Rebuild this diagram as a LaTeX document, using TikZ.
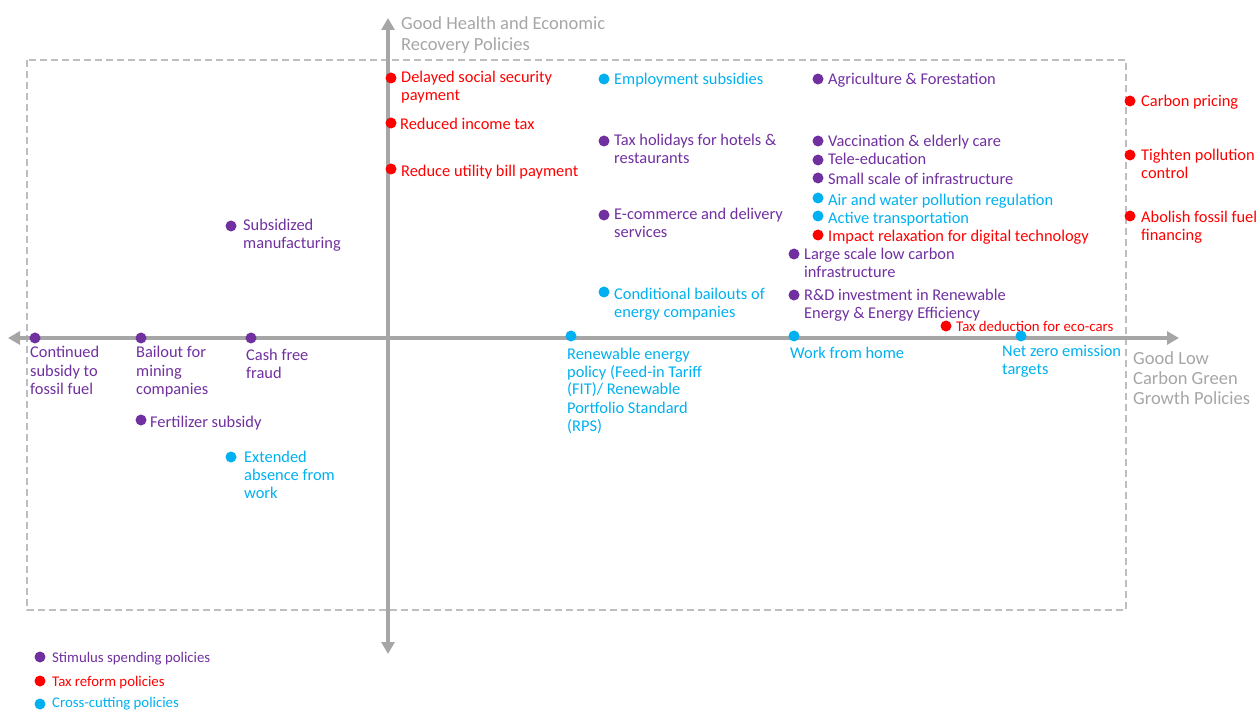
\documentclass[tikz,border=0pt]{standalone}
\usepackage{fontspec}
\setmainfont{Carlito}
\usepackage{tikz}
\usetikzlibrary{arrows.meta}
\definecolor{stimpurple}{RGB}{112,48,160}
\definecolor{taxred}{RGB}{255,0,0}
\definecolor{crosscyan}{RGB}{0,176,240}
\definecolor{axisgray}{RGB}{166,166,166}
\definecolor{boxgray}{RGB}{190,190,190}
\def\txtsize{\fontsize{16.4}{18}\selectfont}
\def\smallsize{\fontsize{14.8}{15}\selectfont}
\def\titlesize{\fontsize{18.5}{21}\selectfont}

\begin{document}
\begin{tikzpicture}[x=1pt,y=-1pt,
  dot/.style={circle,fill=#1,inner sep=0pt,minimum size=11pt},
  lbl/.style={text=#1,anchor=base west,align=left,inner sep=0pt,yshift=-1pt,font=\txtsize},
  leglbl/.style={text=#1,anchor=base west,inner sep=0pt,font=\smallsize},
  axis/.style={axisgray,line width=4pt,{Triangle[width=13pt,length=12pt]}-{Triangle[width=13pt,length=12pt]}},
  title/.style={text=axisgray,anchor=base west,align=left,inner sep=0pt,yshift=-1pt,font=\titlesize}]
\useasboundingbox (0,0) rectangle (1256,711);

\draw[boxgray,line width=1.2pt,dash pattern=on 7pt off 4pt] (27,60) rectangle (1126,610);

\coordinate (xl) at (8,338);
\coordinate (xr) at (1179,338);
\coordinate (yt) at (388,18);
\coordinate (yb) at (388,654);
\draw[axis] (xl) -- (xr);
\draw[axis] (yb) -- (yt);

% base anchor of a multi-line label is the baseline of its last line
\node[title] (ytitle) at (401,50) {Good Health and Economic\\Recovery Policies};
\node[title,font=\fontsize{18.5}{20}\selectfont] (xtitle) at (1133,403) {Good Low\\Carbon Green\\Growth Policies};

% upper half
\node[dot=taxred] (dsp) at (391,78) {};
\node[lbl=taxred] (dsp-t) at (401,100) {Delayed social security\\payment};
\node[dot=taxred] (rit) at (391,123) {};
\node[lbl=taxred] (rit-t) at (400,129) {Reduced income tax};
\node[dot=taxred] (rub) at (391,169) {};
\node[lbl=taxred] (rub-t) at (401,176) {Reduce utility bill payment};
\node[dot=crosscyan] (emp) at (604,79) {};
\node[lbl=crosscyan] (emp-t) at (614,84) {Employment subsidies};
\node[dot=stimpurple] (agr) at (818,79) {};
\node[lbl=stimpurple] (agr-t) at (828,84) {Agriculture \& Forestation};
\node[dot=taxred] (cpr) at (1130,101) {};
\node[lbl=taxred] (cpr-t) at (1141,106) {Carbon pricing};
\node[dot=stimpurple] (thh) at (604,141) {};
\node[lbl=stimpurple] (thh-t) at (614,163) {Tax holidays for hotels \&\\restaurants};
\node[dot=stimpurple] (vac) at (818,141) {};
\node[lbl=stimpurple] (vac-t) at (828,146) {Vaccination \& elderly care};
\node[dot=stimpurple] (tel) at (818,160) {};
\node[lbl=stimpurple] (tel-t) at (828,164) {Tele-education};
\node[dot=stimpurple] (ssi) at (818,178) {};
\node[lbl=stimpurple] (ssi-t) at (828,184) {Small scale of infrastructure};
\node[dot=crosscyan] (awp) at (818,198) {};
\node[lbl=crosscyan] (awp-t) at (828,205) {Air and water pollution regulation};
\node[dot=crosscyan] (act) at (818,216) {};
\node[lbl=crosscyan] (act-t) at (828,223) {Active transportation};
\node[dot=taxred] (irt) at (818,235) {};
\node[lbl=taxred] (irt-t) at (828,241) {Impact relaxation for digital technology};
\node[dot=taxred] (tpc) at (1130,155) {};
\node[lbl=taxred] (tpc-t) at (1141,178) {Tighten pollution\\control};
\node[dot=taxred] (aff) at (1130,216) {};
\node[lbl=taxred] (aff-t) at (1141,240) {Abolish fossil fuel\\financing};
\node[dot=stimpurple] (sman) at (231,226) {};
\node[lbl=stimpurple] (sman-t) at (243,248) {Subsidized\\manufacturing};
\node[dot=stimpurple] (ecom) at (604,215) {};
\node[lbl=stimpurple] (ecom-t) at (614,237) {E-commerce and delivery\\services};
\node[dot=stimpurple] (lsc) at (794,254) {};
\node[lbl=stimpurple] (lsc-t) at (804,277) {Large scale low carbon\\infrastructure};
\node[dot=crosscyan] (cbo) at (604,292) {};
\node[lbl=crosscyan] (cbo-t) at (614,317) {Conditional bailouts of\\energy companies};
\node[dot=stimpurple] (rnd) at (794,295) {};
\node[lbl=stimpurple] (rnd-t) at (804,318) {R\&D investment in Renewable\\Energy \& Energy Efficiency};
\node[dot=taxred] (tde) at (946,326) {};
\node[lbl=taxred,font=\smallsize] (tde-t) at (956,331) {Tax deduction for eco-cars};

% on the horizontal axis
\node[dot=stimpurple] (csf) at (35,338) {};
\node[lbl=stimpurple] (csf-t) at (30,393) {Continued\\subsidy to\\fossil fuel};
\node[dot=stimpurple] (bmc) at (141,338) {};
\node[lbl=stimpurple] (bmc-t) at (136,393) {Bailout for\\mining\\companies};
\node[dot=stimpurple] (cff) at (251,338) {};
\node[lbl=stimpurple] (cff-t) at (246,377) {Cash free\\fraud};
\node[dot=crosscyan] (rep) at (571,336) {};
\node[lbl=crosscyan] (rep-t) at (567,430) {Renewable energy\\policy (Feed-in Tariff\\(FIT)/ Renewable\\Portfolio Standard\\(RPS)};
\node[dot=crosscyan] (wfh) at (794,336) {};
\node[lbl=crosscyan] (wfh-t) at (790,358) {Work from home};
\node[dot=crosscyan] (nze) at (1021,336) {};
\node[lbl=crosscyan] (nze-t) at (1002,373) {Net zero emission\\targets};

% lower half
\node[dot=stimpurple] (fer) at (141,420) {};
\node[lbl=stimpurple] (fer-t) at (150,426) {Fertilizer subsidy};
\node[dot=crosscyan] (eaw) at (231,457) {};
\node[lbl=crosscyan] (eaw-t) at (244,497) {Extended\\absence from\\work};

% legend
\node[dot=stimpurple] (leg1) at (40,657) {};
\node[leglbl=stimpurple] (leg1-t) at (52,662) {Stimulus spending policies};
\node[dot=taxred] (leg2) at (40,681) {};
\node[leglbl=taxred] (leg2-t) at (52,686) {Tax reform policies};
\node[dot=crosscyan] (leg3) at (40,704) {};
\node[leglbl=crosscyan] (leg3-t) at (52,707) {Cross-cutting policies};
\end{tikzpicture}
\end{document}
